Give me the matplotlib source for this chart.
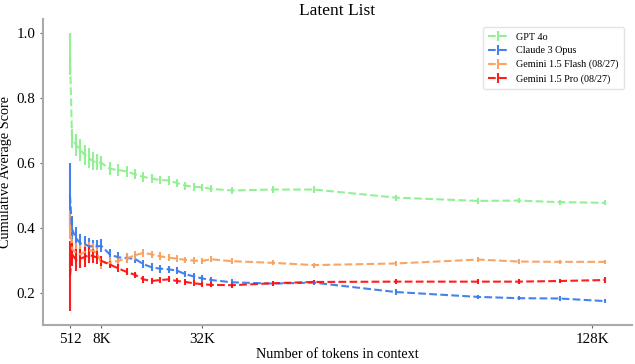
import matplotlib
matplotlib.use("Agg")
import matplotlib.pyplot as plt

plt.rcParams['font.family'] = ['Liberation Serif', 'DejaVu Serif']

tokens = [512, 1024, 2048, 3072, 4096, 5120, 6144, 7168, 8192,
          10240, 12288, 14336, 16384, 18432, 20480, 22528, 24576, 26624,
          28672, 30720, 32768, 35000, 40000, 50000, 60000, 80000, 100000,
          110000, 120000, 131072]

tick_values = [512, 8192, 32768, 128000]
tick_labels = ["512", "8K", "32K", "128K"]

gpt4o = [0.935, 0.675, 0.655, 0.640, 0.625, 0.615, 0.605, 0.602, 0.600,
         0.582, 0.578, 0.574, 0.565, 0.557, 0.552, 0.547, 0.546, 0.538,
         0.530, 0.526, 0.525, 0.520, 0.515, 0.518, 0.518, 0.493, 0.483,
         0.484, 0.479, 0.477]
gpt4o_err = [0.065, 0.03, 0.035, 0.033, 0.03, 0.03, 0.028, 0.025, 0.022,
             0.02, 0.018, 0.017, 0.016, 0.015, 0.014, 0.013, 0.013, 0.012,
             0.012, 0.012, 0.011, 0.011, 0.01, 0.01, 0.01, 0.009, 0.009,
             0.009, 0.008, 0.008]

claude = [0.50, 0.395, 0.367, 0.352, 0.350, 0.343, 0.343, 0.343, 0.344,
          0.318, 0.309, 0.307, 0.304, 0.288, 0.278, 0.274, 0.272, 0.268,
          0.257, 0.250, 0.244, 0.239, 0.232, 0.228, 0.231, 0.202, 0.187,
          0.183, 0.182, 0.174]
claude_err = [0.10, 0.04, 0.035, 0.03, 0.025, 0.025, 0.02, 0.02, 0.02,
              0.017, 0.016, 0.015, 0.014, 0.013, 0.012, 0.012, 0.011, 0.011,
              0.01, 0.01, 0.01, 0.009, 0.009, 0.008, 0.008, 0.008, 0.007,
              0.007, 0.007, 0.007]

flash = [0.41, 0.335, 0.322, 0.318, 0.325, 0.33, 0.33, 0.32, 0.292,
         0.292, 0.298, 0.306, 0.315, 0.323, 0.318, 0.312, 0.308, 0.305,
         0.301, 0.299, 0.298, 0.303, 0.297, 0.292, 0.285, 0.290, 0.302,
         0.296, 0.295, 0.295]
flash_err = [0.045, 0.03, 0.03, 0.028, 0.026, 0.025, 0.023, 0.022, 0.02,
             0.017, 0.016, 0.015, 0.014, 0.013, 0.012, 0.012, 0.011, 0.011,
             0.01, 0.01, 0.01, 0.009, 0.009, 0.008, 0.008, 0.008, 0.007,
             0.007, 0.007, 0.007]

pro = [0.251, 0.318, 0.301, 0.305, 0.310, 0.316, 0.313, 0.308, 0.298,
       0.287, 0.275, 0.264, 0.255, 0.241, 0.236, 0.239, 0.241, 0.236,
       0.233, 0.229, 0.226, 0.224, 0.223, 0.229, 0.233, 0.234, 0.234,
       0.234, 0.236, 0.239]
pro_err = [0.108, 0.035, 0.035, 0.03, 0.03, 0.025, 0.022, 0.02, 0.015,
           0.012, 0.012, 0.011, 0.01, 0.01, 0.01, 0.01, 0.009, 0.009,
           0.009, 0.009, 0.008, 0.008, 0.008, 0.008, 0.007, 0.007, 0.007,
           0.007, 0.007, 0.008]

series = [
    ("GPT 4o", gpt4o, gpt4o_err, "#8ef08e"),
    ("Claude 3 Opus", claude, claude_err, "#3a7bed"),
    ("Gemini 1.5 Flash (08/27)", flash, flash_err, "#f9a05e"),
    ("Gemini 1.5 Pro (08/27)", pro, pro_err, "#ff1010"),
]

fig = plt.figure(figsize=(6.35, 3.64), dpi=100)
ax = fig.add_axes([0.068, 0.107, 0.927, 0.84])

for name, vals, errs, col in series:
    ax.errorbar(tokens, vals, yerr=errs, fmt='--', color=col, lw=1.5,
                elinewidth=1.5, capsize=0, label=name, alpha=0.95)

ax.set_xticks(tick_values)
ax.set_xticklabels(tick_labels)
ax.set_yticks([0.2, 0.4, 0.6, 0.8, 1.0])
ax.set_yticklabels(["0.2", "0.4", "0.6", "0.8", "1.0"])
ax.tick_params(labelsize=10.8, length=2.5, color='#666666', width=0.8, pad=3)

for s in ['top', 'right']:
    ax.spines[s].set_visible(False)
for s in ['left', 'bottom']:
    ax.spines[s].set_color('#aaaaaa')
    ax.spines[s].set_linewidth(1.5)

ax.set_title("Latent List", fontsize=12.5, pad=3)
ax.set_xlabel("Number of tokens in context", fontsize=10.3, labelpad=2)
ax.set_ylabel("Cumulative Average Score", fontsize=10.3, labelpad=3)

leg = ax.legend(loc='upper right', fontsize=7.3, frameon=True,
                bbox_to_anchor=(0.995, 0.99), borderpad=0.5, handlelength=2,
                labelspacing=0.45)
leg.get_frame().set_edgecolor('#dddddd')

fig.savefig("out.png", dpi=100)
